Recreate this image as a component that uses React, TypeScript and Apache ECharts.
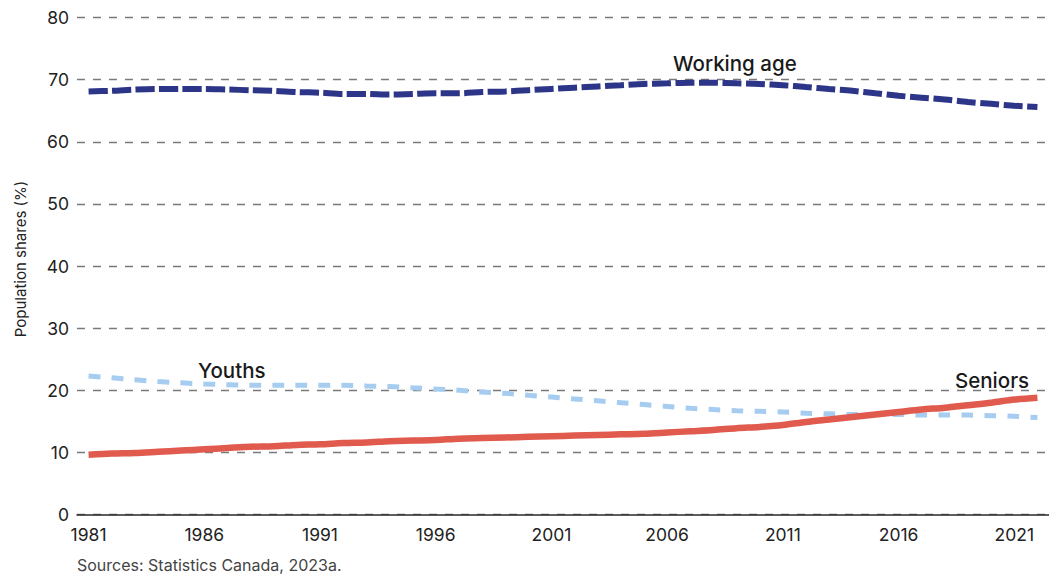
import React, { useEffect, useRef } from "react";
import * as echarts from "echarts";

const years = [
  "1981","1982","1983","1984","1985","1986","1987","1988","1989","1990",
  "1991","1992","1993","1994","1995","1996","1997","1998","1999","2000",
  "2001","2002","2003","2004","2005","2006","2007","2008","2009","2010",
  "2011","2012","2013","2014","2015","2016","2017","2018","2019","2020",
  "2021","2022",
];

const workingAge = [
  68.1, 68.2, 68.4, 68.5, 68.5, 68.5, 68.4, 68.3, 68.2, 68.0,
  67.9, 67.7, 67.7, 67.6, 67.7, 67.8, 67.8, 68.0, 68.1, 68.3,
  68.5, 68.7, 68.9, 69.1, 69.3, 69.4, 69.5, 69.5, 69.4, 69.3,
  69.1, 68.8, 68.5, 68.2, 67.8, 67.4, 67.1, 66.8, 66.4, 66.1,
  65.8, 65.6,
];

const youths = [
  22.3, 22.0, 21.7, 21.4, 21.2, 21.0, 20.9, 20.8, 20.8, 20.8,
  20.8, 20.8, 20.7, 20.6, 20.4, 20.2, 20.0, 19.7, 19.5, 19.2,
  18.9, 18.6, 18.3, 18.0, 17.7, 17.4, 17.1, 16.9, 16.7, 16.6,
  16.5, 16.3, 16.2, 16.1, 16.1, 16.1, 16.0, 16.0, 16.0, 15.9,
  15.8, 15.6,
];

const seniors = [
  9.6, 9.8, 9.9, 10.1, 10.3, 10.5, 10.7, 10.9, 11.0, 11.2,
  11.3, 11.5, 11.6, 11.8, 11.9, 12.0, 12.2, 12.3, 12.4, 12.5,
  12.6, 12.7, 12.8, 12.9, 13.0, 13.2, 13.4, 13.6, 13.9, 14.1,
  14.4, 14.9, 15.3, 15.7, 16.1, 16.5, 16.9, 17.2, 17.6, 18.0,
  18.5, 18.8,
];

const FONT = "Inter, 'Noto Sans', sans-serif";

export default function App() {
  const ref = useRef<HTMLDivElement>(null);

  useEffect(() => {
    if (!ref.current) return;
    const chart = echarts.init(ref.current, undefined, { renderer: "svg" });
    chart.setOption({
      animation: false,
      backgroundColor: "#ffffff",
      grid: { left: 77, right: -5, top: 17.5, bottom: 63.5 },
      xAxis: {
        type: "category",
        data: years,
        boundaryGap: true,
        axisLine: { show: true, lineStyle: { color: "#2a2a2a", width: 1.5 } },
        axisTick: { show: false },
        axisLabel: {
          interval: 4,
          margin: 11,
          color: "#222",
          fontSize: 17.5,
          fontFamily: FONT,
        },
        splitLine: { show: false },
      },
      yAxis: {
        type: "value",
        min: 0,
        max: 80,
        interval: 10,
        axisLine: { show: false },
        axisTick: { show: false },
        axisLabel: {
          margin: 8,
          color: "#222",
          fontSize: 17.5,
          fontFamily: FONT,
        },
        splitLine: {
          show: true,
          lineStyle: { color: "#7a7a7a", width: 1.3, type: [8, 8] },
        },
      },
      series: [
        {
          name: "Working age",
          type: "line",
          data: workingAge,
          smooth: 0.3,
          symbol: "none",
          lineStyle: { color: "#2d3589", width: 6, type: [19, 4.5] },
        },
        {
          name: "Youths",
          type: "line",
          data: youths,
          smooth: 0.3,
          symbol: "none",
          lineStyle: { color: "#a6cdf0", width: 5, type: [12, 11] },
        },
        {
          name: "Seniors",
          type: "line",
          data: seniors,
          smooth: 0.3,
          symbol: "none",
          lineStyle: { color: "#e05a4e", width: 6.5 },
        },
      ],
      graphic: [
        {
          type: "text",
          x: 673,
          y: 63,
          style: {
            text: "Working age",
            fontSize: 20.5,
            fontWeight: 500,
            fontFamily: FONT,
            fill: "#1a1a1a",
            verticalAlign: "middle",
          },
        },
        {
          type: "text",
          x: 198,
          y: 370,
          style: {
            text: "Youths",
            fontSize: 20.5,
            fontWeight: 500,
            fontFamily: FONT,
            fill: "#1a1a1a",
            verticalAlign: "middle",
          },
        },
        {
          type: "text",
          x: 955,
          y: 380,
          style: {
            text: "Seniors",
            fontSize: 20.5,
            fontWeight: 500,
            fontFamily: FONT,
            fill: "#1a1a1a",
            verticalAlign: "middle",
          },
        },
        {
          type: "text",
          x: 20,
          y: 259,
          rotation: Math.PI / 2,
          style: {
            text: "Population shares (%)",
            fontSize: 15,
            fontFamily: FONT,
            fill: "#222",
            align: "center",
            verticalAlign: "middle",
          },
        },
        {
          type: "text",
          x: 77,
          y: 565,
          style: {
            text: "Sources: Statistics Canada, 2023a.",
            fontSize: 16,
            fontFamily: FONT,
            fill: "#444",
            verticalAlign: "middle",
          },
        },
      ],
    });
    return () => chart.dispose();
  }, []);

  return (
    <div
      ref={ref}
      style={{ position: "absolute", left: 0, top: 0, width: 1049, height: 578 }}
    />
  );
}
